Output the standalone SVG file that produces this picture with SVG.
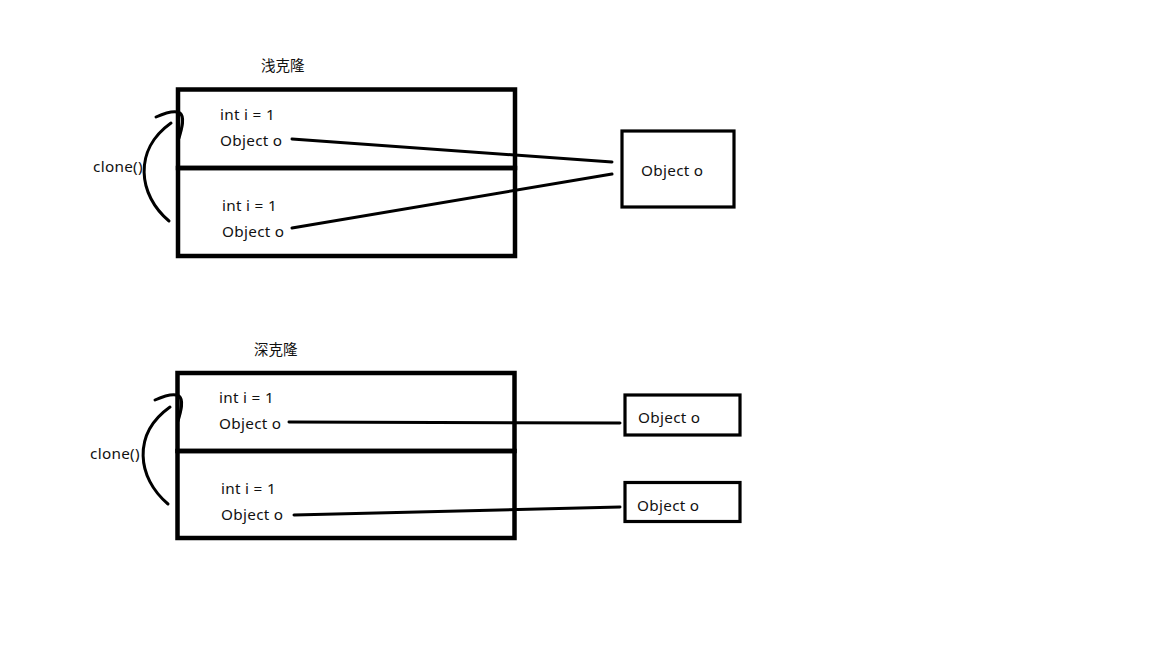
<svg xmlns="http://www.w3.org/2000/svg" width="1152" height="648" viewBox="0 0 1152 648">
<style>
.bg{fill:#fff}
.box{fill:none;stroke:#000;stroke-width:4.5}
.obj{fill:none;stroke:#000;stroke-width:3.2}
.line{fill:none;stroke:#000;stroke-width:3;stroke-linecap:round}
.curve{fill:none;stroke:#000;stroke-width:3;stroke-linecap:round}
text{font-family:"Noto Sans","Noto Sans CJK SC",sans-serif;font-size:15.3px;letter-spacing:0.3px;fill:#111}
.title{font-size:14.5px;letter-spacing:0}
</style>
<rect class="bg" x="0" y="0" width="1152" height="648"/>

<g id="shallow-title"><text class="title" x="261" y="71">浅克隆</text></g>
<g id="shallow-original">
<rect class="box" x="178" y="89.5" width="337" height="78.5"/>
<text x="220" y="120">int i = 1</text>
<text x="220" y="146">Object o</text>
</g>
<g id="shallow-copy">
<rect class="box" x="178" y="168" width="337" height="88"/>
<text x="222" y="211">int i = 1</text>
<text x="222" y="237">Object o</text>
</g>
<g id="shallow-object">
<rect class="obj" x="622" y="131" width="112" height="76"/>
<text x="641" y="176">Object o</text>
</g>
<g id="shallow-clone-label"><text x="93" y="172">clone()</text></g>

<g id="deep-title"><text class="title" x="254" y="355">深克隆</text></g>
<g id="deep-original">
<rect class="box" x="177.5" y="373" width="337" height="78"/>
<text x="219" y="403">int i = 1</text>
<text x="219" y="429">Object o</text>
</g>
<g id="deep-copy">
<rect class="box" x="177.5" y="451" width="337" height="87"/>
<text x="221" y="494">int i = 1</text>
<text x="221" y="520">Object o</text>
</g>
<g id="deep-object-1">
<rect class="obj" x="625" y="395" width="115" height="40"/>
<text x="638" y="423">Object o</text>
</g>
<g id="deep-object-2">
<rect class="obj" x="625" y="482.5" width="115" height="39"/>
<text x="637" y="511">Object o</text>
</g>
<g id="deep-clone-label"><text x="90" y="459">clone()</text></g>

<g id="connectors">
<path class="line" d="M292,139 L612,162"/>
<path class="line" d="M292,228 L612,174"/>
<path class="curve" d="M169,221 C138,195 133,150 171,123"/>
<path class="curve" d="M156,117 C165,113 175,110 180,113 C185,117 182,128 179,138"/>
<path class="line" d="M289,422 L620,423"/>
<path class="line" d="M294,515 L620,507"/>
<path class="curve" d="M168,504 C137,478 132,434 170,407"/>
<path class="curve" d="M155,400 C164,396 174,393 179,396 C184,400 181,411 178,421"/>
</g>
</svg>
